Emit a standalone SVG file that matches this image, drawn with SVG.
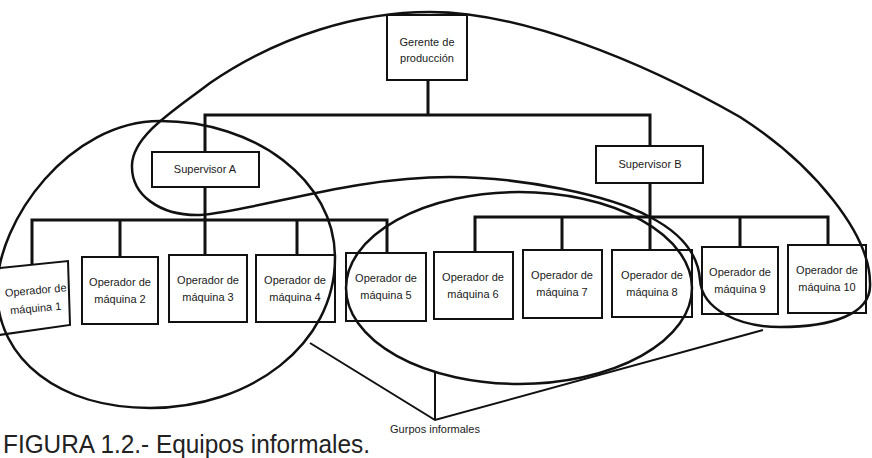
<svg xmlns="http://www.w3.org/2000/svg" width="872" height="458" viewBox="0 0 872 458">
<style>
  .box { fill: #fff; stroke: #111; stroke-width: 2; }
  .t { font-family: "Liberation Sans", Arial, sans-serif; font-size: 11px; fill: #1a1a1a; text-anchor: middle; }
  .con { stroke: #111; stroke-width: 3; fill: none; stroke-linecap: square; }
  .grp { stroke: #111; stroke-width: 2.5; fill: none; }
  .ptr { stroke: #111; stroke-width: 2; fill: none; }
</style>
<rect width="872" height="458" fill="#fff"/>

<g id="connectors">
  <path class="con" d="M428,80 V115 M205,115 H650 M205,115 V152 M650,115 V146"/>
  <path class="con" d="M205,187 V220 M32,220 H387 M32,220 V264 M120,220 V257 M205,220 V255 M297,220 V255 M387,220 V253"/>
  <path class="con" d="M650,183 V217 M475,217 H828 M475,217 V252 M562,217 V250 M650,217 V250 M740,217 V247 M828,217 V245"/>
</g>

<g id="gerente">
  <rect class="box" x="387" y="15" width="80" height="65"/>
  <text class="t" x="427" y="46">Gerente de</text>
  <text class="t" x="427" y="62">producción</text>
</g>
<g id="supervisor-a">
  <rect class="box" x="152" y="152" width="107" height="35"/>
  <text class="t" x="205" y="173">Supervisor A</text>
</g>
<g id="supervisor-b">
  <rect class="box" x="596" y="146" width="107" height="37"/>
  <text class="t" x="650" y="168">Supervisor B</text>
</g>
<g id="op1">
  <polygon class="box" points="-10,269 68,261 70,325 -8,336"/>
  <text class="t" x="36" y="294" transform="rotate(-5 36 294)">Operador de</text>
  <text class="t" x="36" y="312" transform="rotate(-5 36 312)">máquina 1</text>
</g>
<g id="op2">
  <rect class="box" x="82" y="257" width="76" height="67"/>
  <text class="t" x="120" y="286">Operador de</text>
  <text class="t" x="120" y="303">máquina 2</text>
</g>
<g id="op3">
  <rect class="box" x="169" y="255" width="78" height="67"/>
  <text class="t" x="208" y="284">Operador de</text>
  <text class="t" x="208" y="301">máquina 3</text>
</g>
<g id="op4">
  <rect class="box" x="256" y="255" width="79" height="67"/>
  <text class="t" x="295" y="284">Operador de</text>
  <text class="t" x="295" y="301">máquina 4</text>
</g>
<g id="op5">
  <rect class="box" x="346" y="253" width="80" height="68"/>
  <text class="t" x="386" y="282">Operador de</text>
  <text class="t" x="386" y="299">máquina 5</text>
</g>
<g id="op6">
  <rect class="box" x="434" y="252" width="79" height="67"/>
  <text class="t" x="473" y="281">Operador de</text>
  <text class="t" x="473" y="298">máquina 6</text>
</g>
<g id="op7">
  <rect class="box" x="523" y="250" width="79" height="68"/>
  <text class="t" x="562" y="279">Operador de</text>
  <text class="t" x="562" y="296">máquina 7</text>
</g>
<g id="op8">
  <rect class="box" x="612" y="250" width="80" height="67"/>
  <text class="t" x="652" y="279">Operador de</text>
  <text class="t" x="652" y="296">máquina 8</text>
</g>
<g id="op9">
  <rect class="box" x="702" y="247" width="76" height="67"/>
  <text class="t" x="740" y="276">Operador de</text>
  <text class="t" x="740" y="293">máquina 9</text>
</g>
<g id="op10">
  <rect class="box" x="788" y="245" width="78" height="68"/>
  <text class="t" x="827" y="274">Operador de</text>
  <text class="t" x="827" y="291">máquina 10</text>
</g>

<g id="informal-groups">
  <path class="grp" d="M160,121 C255,121 335,180 335,258 C335,345 250,408 150,408 C60,408 -3,360 -3,290 C-3,220 70,121 160,121 Z"/>
  <ellipse class="grp" cx="519" cy="288" rx="173" ry="96"/>
  <path class="grp" d="M200,215 C160,216 131,195 132,165 C133,135 175,110 210,83 C280,35 360,12 430,12 C520,12 640,60 740,117 C815,165 870,235 870,283 C872,315 830,327 780,327 C740,327 702,310 700,280 C698,250 675,230 650,217 C610,195 520,177 450,177 C350,177 260,210 200,215 Z"/>
</g>

<g id="gurpos-pointer">
  <path class="ptr" d="M310,343 L435,420 L763,330 M435,372 V420"/>
  <text class="t" x="435" y="433" font-size="10.5">Gurpos informales</text>
</g>

<text id="caption" x="3" y="453" font-family="Liberation Sans, Arial, sans-serif" font-size="26" fill="#222" textLength="367" lengthAdjust="spacingAndGlyphs">FIGURA 1.2.- Equipos informales.</text>
</svg>
